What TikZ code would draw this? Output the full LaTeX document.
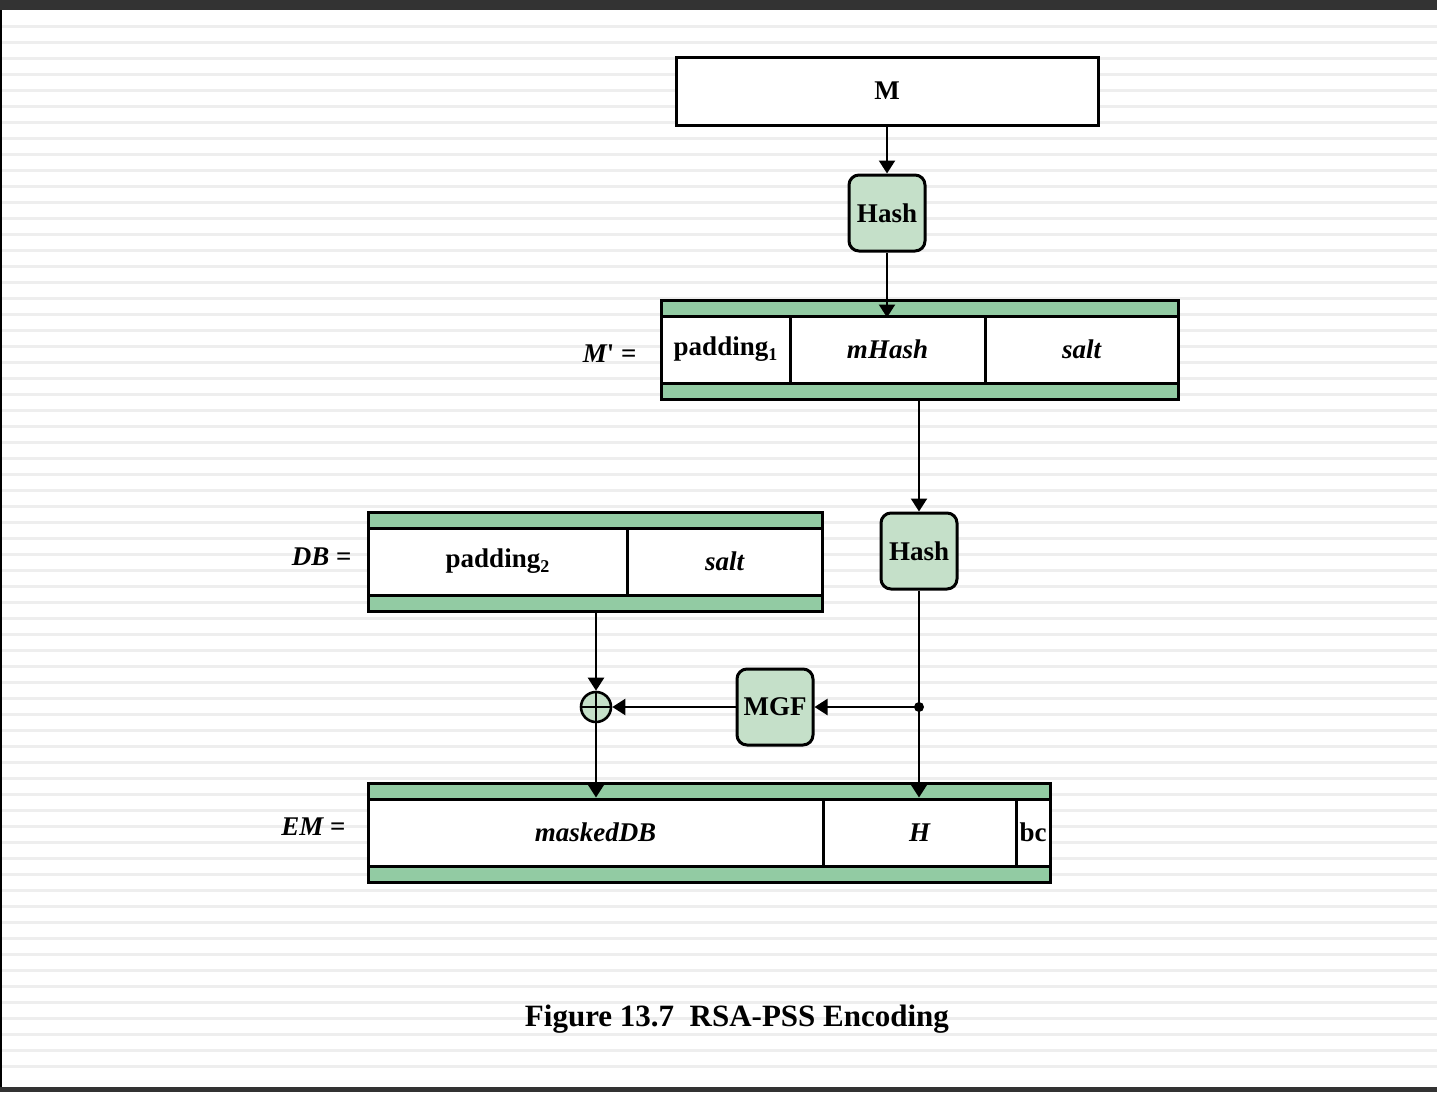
\documentclass[tikz,border=0pt]{standalone}
\usepackage{fontspec}
\setmainfont{Liberation Serif}
\usetikzlibrary{arrows.meta,calc}
\definecolor{stripg}{RGB}{146,203,163}
\definecolor{boxg}{RGB}{197,224,201}
\definecolor{frameg}{RGB}{51,51,51}
\definecolor{bgline}{RGB}{238,238,238}
\newcommand{\lowsub}[1]{\raisebox{-0.35ex}{\fontsize{18}{18}\selectfont #1}}
\begin{document}
\begin{tikzpicture}[x=1pt,y=-1pt,
  txt/.style={font=\fontsize{27}{30}\selectfont\bfseries},
  cell/.style={draw, line width=3pt, fill=white, minimum height=67pt, inner sep=0pt, txt},
  stripbox/.style={draw, line width=3pt, fill=stripg, minimum height=16pt, inner sep=0pt},
  fnbox/.style={draw, line width=3pt, fill=boxg, rounded corners=10pt, minimum width=76pt, minimum height=76pt, inner sep=0pt, txt},
  arr/.style={line width=2.3pt, -{Triangle[width=16pt,length=13pt]}},
]
\useasboundingbox (0,0) rectangle (1437,1092);
% background
\fill[white] (0,0) rectangle (1437,1092);
\foreach \yy in {26.7,42.7,...,1080} { \fill[bgline] (2,\yy-1.5) rectangle (1437,\yy+1.5); }
\fill[frameg] (0,0) rectangle (1437,10);
\fill[frameg] (0,1087) rectangle (1437,1092);
\fill[black] (0,10) rectangle (2,1087);

% M box
\node[draw, line width=3pt, fill=white, minimum width=422pt, minimum height=68pt, inner sep=0pt, txt] (M) at (887,91) {M};
\node[fnbox] (hash1) at (887,213) {Hash};

% M' block
\node[stripbox, minimum width=517pt] (topM) at (919.5,308) {};
\node[stripbox, minimum width=517pt] (botM) at (919.5,391) {};
\node[cell, minimum width=129pt] (p1) at (725.5,349.5) {padding\lowsub{1}};
\node[cell, minimum width=195pt] (mh) at (887.5,349.5) {\itshape mHash};
\node[cell, minimum width=193pt] (s1) at (1081.5,349.5) {\itshape salt};
\node[txt, anchor=east] (lMp) at (640,354) {\itshape M\upshape\textquotesingle{} =};

\node[fnbox] (hash2) at (919,551) {Hash};

% DB block
\node[stripbox, minimum width=454pt] (topDB) at (595,520) {};
\node[stripbox, minimum width=454pt] (botDB) at (595,603) {};
\node[cell, minimum width=259pt] (p2) at (497.5,561.5) {padding\lowsub{2}};
\node[cell, minimum width=195pt] (s2) at (724.5,561.5) {\itshape salt};
\node[txt, anchor=east] (lDB) at (355,557) {\itshape DB\upshape{} =};

% MGF and XOR
\node[fnbox] (mgf) at (775,707) {MGF};
\node[draw, line width=2.6pt, fill=boxg, circle, minimum size=30pt, inner sep=0pt] (xor) at (596,707) {};
\draw[line width=2.2pt] (xor.north) -- (xor.south) (xor.west) -- (xor.east);

% EM block
\node[stripbox, minimum width=682pt] (topEM) at (709,791) {};
\node[stripbox, minimum width=682pt] (botEM) at (709,874) {};
\node[cell, minimum width=455pt] (mdb) at (595.5,832.5) {\itshape maskedDB};
\node[cell, minimum width=193pt] (H) at (919.5,832.5) {\itshape H};
\node[cell, minimum width=34pt] (bc) at (1033,832.5) {bc};
\node[txt, anchor=east] (lEM) at (349,827) {\itshape EM\upshape{} =};

% connectors
\draw[arr] (M.south -| hash1.north) -- (hash1.north);
\draw[arr] (hash1.south) -- (hash1.south |- topM.south);
\draw[arr] (hash2.north |- botM.south) -- (hash2.north);
\coordinate (dot) at (hash2.south |- mgf.east);
\draw[arr] (hash2.south) -- (hash2.south |- H.north);
\fill (dot) circle (5pt);
\draw[arr] (dot) -- (mgf.east);
\draw[arr] (mgf.west) -- (xor.east);
\draw[arr] (xor.north |- botDB.south) -- (xor.north);
\draw[arr] (xor.south) -- (xor.south |- mdb.north);

% caption
\node[font=\fontsize{31}{34}\selectfont\bfseries] (cap) at (737,1019) {Figure 13.7\ \ RSA-PSS Encoding};
\end{tikzpicture}
\end{document}
